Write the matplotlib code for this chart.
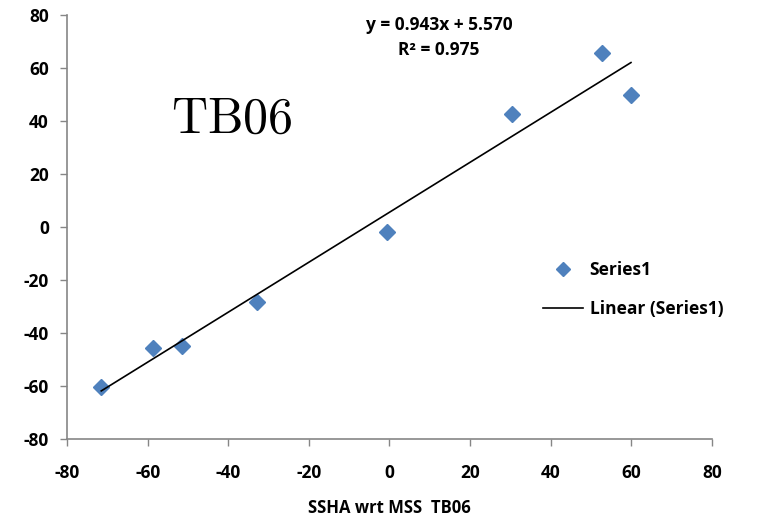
import numpy as np
import matplotlib.pyplot as plt

# data
ssha_x = [-71.5, -58.6, -51.5, -32.9, -0.6, 30.4, 52.6, 59.9]
ssha_y = [-60.3, -45.8, -44.8, -28.3, -1.9, 42.6, 65.5, 49.7]
slope = 0.943
intercept = 5.570
r2 = 0.975
ticks = [-80, -60, -40, -20, 0, 20, 40, 60, 80]

plt.rcParams['font.family'] = ['Open Sans', 'DejaVu Sans']
plt.rcParams['font.weight'] = 'bold'
plt.rcParams['mathtext.fontset'] = 'cm'
plt.rcParams['axes.unicode_minus'] = False

fig = plt.figure(figsize=(7.58, 5.26), dpi=100)
ax = fig.add_axes([67 / 758, 1 - 439 / 526, 645 / 758, 424 / 526])

ax.plot(ssha_x, ssha_y, linestyle='none', marker='D', markersize=8,
        color='#4F81BD', label='Series1')

xs = np.array([min(ssha_x), max(ssha_x)])
ax.plot(xs, slope * xs + intercept, color='black', linewidth=1.2,
        label='Linear (Series1)')

ax.set_xlim(-80, 80)
ax.set_ylim(-80, 80)
ax.set_xticks(ticks)
ax.set_yticks(ticks)
for s in ['top', 'right']:
    ax.spines[s].set_visible(False)
for s in ['left', 'bottom']:
    ax.spines[s].set_color('#868686')
    ax.spines[s].set_linewidth(1.2)
ax.tick_params(direction='out', length=5, width=1, color='#868686',
               labelsize=12.5, pad=8)
for lab in ax.get_xticklabels() + ax.get_yticklabels():
    lab.set_fontweight('bold')
ax.tick_params(axis='x', pad=13)

ax.set_xlabel('SSHA wrt MSS  TB06', fontsize=12, fontweight='bold', labelpad=12)

ax.text(439 / 758, 1 - 25 / 526, f'y = {slope:.3f}x + {intercept:.3f}',
        transform=fig.transFigure, ha='center', va='center',
        fontsize=12.5, fontweight='bold')
ax.text(439 / 758, 1 - 50 / 526, f'R² = {r2:.3f}',
        transform=fig.transFigure, ha='center', va='center',
        fontsize=12.5, fontweight='bold')

ax.text(232 / 758, 1 - 120 / 526, r'$\mathrm{TB06}$',
        transform=fig.transFigure, ha='center', va='center', fontsize=36)

ax.legend(loc='upper left', bbox_to_anchor=(527 / 758, 1 - 245 / 526),
          bbox_transform=fig.transFigure, frameon=False,
          prop={'weight': 'bold', 'size': 12.5}, handlelength=2.3,
          labelspacing=1.25, handletextpad=0.4, markerscale=0.9)

plt.savefig('out.png', dpi=100)
